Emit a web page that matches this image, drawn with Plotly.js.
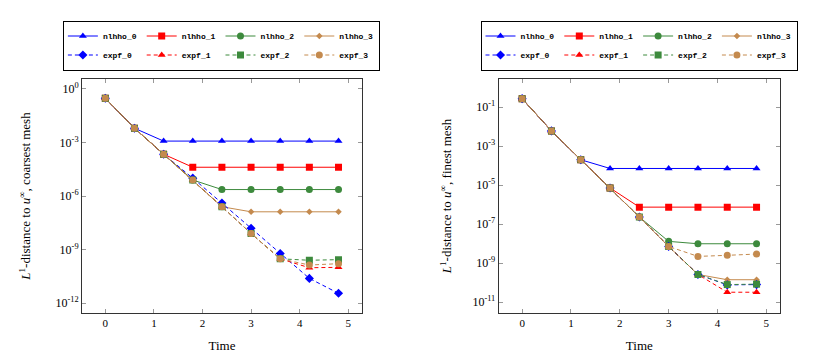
<!DOCTYPE html>
<html>
<head>
<meta charset="utf-8">
<script src="https://cdn.plot.ly/plotly-3.0.1.min.js"></script>
<style>
  html, body { margin: 0; padding: 0; background: #fff; }
  #chart { width: 819px; height: 356px; }
</style>
</head>
<body>
<div id="chart"></div>
<script>
// Czas (wspólny dla obu wykresów)
const time = [0, 0.6, 1.2, 1.8, 2.4, 3.0, 3.6, 4.2, 4.8];

const names = ['nlhho_0', 'nlhho_1', 'nlhho_2', 'nlhho_3', 'expf_0', 'expf_1', 'expf_2', 'expf_3'];

// Lewy wykres: najgrubsza siatka
const coarseNlhho0 = [3.0e-1, 6.3e-3, 1.2e-3, 1.2e-3, 1.2e-3, 1.2e-3, 1.2e-3, 1.2e-3, 1.2e-3];
const coarseNlhho1 = [3.0e-1, 6.3e-3, 2.2e-4, 4.1e-5, 4.1e-5, 4.1e-5, 4.1e-5, 4.1e-5, 4.1e-5];
const coarseNlhho2 = [3.0e-1, 6.3e-3, 2.2e-4, 7.9e-6, 2.3e-6, 2.3e-6, 2.3e-6, 2.3e-6, 2.3e-6];
const coarseNlhho3 = [3.0e-1, 6.3e-3, 2.2e-4, 7.9e-6, 2.5e-7, 1.3e-7, 1.3e-7, 1.3e-7, 1.3e-7];
const coarseExpf0 = [3.0e-1, 6.3e-3, 2.2e-4, 1.0e-5, 4.0e-7, 1.55e-8, 6.0e-10, 2.4e-11, 3.5e-12];
const coarseExpf1 = [3.0e-1, 6.3e-3, 2.2e-4, 7.9e-6, 2.5e-7, 7.9e-9, 3.0e-10, 9.5e-11, 1.0e-10];
const coarseExpf2 = [3.0e-1, 6.3e-3, 2.2e-4, 7.9e-6, 2.5e-7, 7.9e-9, 3.0e-10, 2.5e-10, 2.7e-10];
const coarseExpf3 = [3.0e-1, 6.3e-3, 2.2e-4, 7.9e-6, 2.5e-7, 7.9e-9, 3.0e-10, 1.35e-10, 1.6e-10];

// Prawy wykres: najdrobniejsza siatka
const fineNlhho0 = [2.7e-1, 6.0e-3, 2.0e-4, 7.1e-5, 7.1e-5, 7.1e-5, 7.1e-5, 7.1e-5, 7.1e-5];
const fineNlhho1 = [2.7e-1, 6.0e-3, 2.0e-4, 7.1e-6, 7.4e-7, 7.4e-7, 7.4e-7, 7.4e-7, 7.4e-7];
const fineNlhho2 = [2.7e-1, 6.0e-3, 2.0e-4, 7.1e-6, 2.3e-7, 1.3e-8, 9.8e-9, 9.8e-9, 9.8e-9];
const fineNlhho3 = [2.7e-1, 6.0e-3, 2.0e-4, 7.1e-6, 2.3e-7, 7.1e-9, 2.6e-10, 1.4e-10, 1.4e-10];
const fineExpf0 = [2.7e-1, 6.0e-3, 2.0e-4, 7.1e-6, 2.3e-7, 7.1e-9, 2.6e-10, 7.6e-11, 7.9e-11];
const fineExpf1 = [2.7e-1, 6.0e-3, 2.0e-4, 7.1e-6, 2.3e-7, 7.1e-9, 2.6e-10, 3.2e-11, 3.2e-11];
const fineExpf2 = [2.7e-1, 6.0e-3, 2.0e-4, 7.1e-6, 2.3e-7, 7.1e-9, 2.6e-10, 7.9e-11, 8.3e-11];
const fineExpf3 = [2.7e-1, 6.0e-3, 2.0e-4, 7.1e-6, 2.3e-7, 7.1e-9, 2.2e-9, 2.5e-9, 2.9e-9];

// Etykiety osi
const xTicks = [0, 1, 2, 3, 4, 5];
const coarseTickVals = [1e0, 1e-3, 1e-6, 1e-9, 1e-12];
const coarseTickText = ['10<sup>0</sup>', '10<sup>-3</sup>', '10<sup>-6</sup>', '10<sup>-9</sup>', '10<sup>-12</sup>'];
const fineTickVals = [1e-1, 1e-3, 1e-5, 1e-7, 1e-9, 1e-11];
const fineTickText = ['10<sup>-1</sup>', '10<sup>-3</sup>', '10<sup>-5</sup>', '10<sup>-7</sup>', '10<sup>-9</sup>', '10<sup>-11</sup>'];

const coarseSeries = [coarseNlhho0, coarseNlhho1, coarseNlhho2, coarseNlhho3, coarseExpf0, coarseExpf1, coarseExpf2, coarseExpf3];
const fineSeries = [fineNlhho0, fineNlhho1, fineNlhho2, fineNlhho3, fineExpf0, fineExpf1, fineExpf2, fineExpf3];

// Style
const colors = ['#0000ff', '#ff0000', '#3d8a3d', '#c48a4e', '#0000ff', '#ff0000', '#3d8a3d', '#c48a4e'];
const symbols = ['triangle-up', 'square', 'circle', 'diamond', 'diamond', 'triangle-up', 'square', 'circle'];
const sizes = [7, 7, 7, 5, 7, 7, 7, 7];

const serif = 'Liberation Serif, Times New Roman, serif';

const data = [];
const addTraces = (series, xa, ya, legendId) => {
    series.forEach((vals, i) => {
        data.push({
            x: time,
            y: vals,
            xaxis: xa,
            yaxis: ya,
            type: 'scatter',
            mode: 'lines+markers',
            name: names[i],
            legend: legendId,
            legendgroup: legendId + '_g' + (i % 4),
            line: { color: colors[i], width: 1, dash: i < 4 ? 'solid' : '4px,3px' },
            marker: { color: colors[i], symbol: symbols[i], size: sizes[i] },
            hoverinfo: 'x+y+name'
        });
    });
};
addTraces(coarseSeries, 'x', 'y', 'legend');
addTraces(fineSeries, 'x2', 'y2', 'legend2');

const axisBase = {
    showline: true,
    linecolor: '#333',
    linewidth: 1,
    mirror: 'ticks',
    ticks: 'inside',
    ticklen: 4,
    tickcolor: '#999',
    showgrid: false,
    zeroline: false,
    tickfont: { family: serif, size: 11, color: '#000' }
};

const legendBase = {
    orientation: 'h',
    traceorder: 'grouped',
    tracegroupgap: 0,
    xanchor: 'center',
    yanchor: 'top',
    y: 1.25,
    bgcolor: '#fff',
    bordercolor: '#000',
    borderwidth: 1,
    itemwidth: 30,
    font: { family: 'Liberation Mono, DejaVu Sans Mono, monospace', size: 8, weight: 'bold', color: '#000' }
};

const layout = {
    width: 819,
    height: 356,
    margin: { l: 82, r: 38.5, t: 79, b: 43 },
    paper_bgcolor: '#fff',
    plot_bgcolor: '#fff',
    font: { family: serif, color: '#000' },
    xaxis: Object.assign({}, axisBase, {
        domain: [0, 0.4009],
        range: [-0.48, 5.28],
        tickvals: xTicks,
        anchor: 'y',
        title: { text: 'Time', font: { family: serif, size: 13 }, standoff: 12 }
    }),
    xaxis2: Object.assign({}, axisBase, {
        domain: [0.597, 1],
        range: [-0.48, 5.28],
        tickvals: xTicks,
        anchor: 'y2',
        title: { text: 'Time', font: { family: serif, size: 13 }, standoff: 12 }
    }),
    yaxis: Object.assign({}, axisBase, {
        type: 'log',
        range: [-12.56, 0.56],
        tickvals: coarseTickVals,
        ticktext: coarseTickText,
        anchor: 'x',
        tickfont: { family: serif, size: 12, color: '#000' },
        title: { text: '<i>L</i><sup>1</sup>-distance to <i>u</i><sup>∞</sup>, coarsest mesh', font: { family: serif, size: 13 }, standoff: 21 }
    }),
    yaxis2: Object.assign({}, axisBase, {
        type: 'log',
        range: [-11.56, 0.44],
        tickvals: fineTickVals,
        ticktext: fineTickText,
        anchor: 'x2',
        tickfont: { family: serif, size: 12, color: '#000' },
        title: { text: '<i>L</i><sup>1</sup>-distance to <i>u</i><sup>∞</sup>, finest mesh', font: { family: serif, size: 13 }, standoff: 17 }
    }),
    legend: Object.assign({}, legendBase, { x: 0.1997 }),
    legend2: Object.assign({}, legendBase, { x: 0.798 }),
    showlegend: true
};

Plotly.newPlot('chart', data, layout, { displayModeBar: false, staticPlot: true });
</script>
</body>
</html>
